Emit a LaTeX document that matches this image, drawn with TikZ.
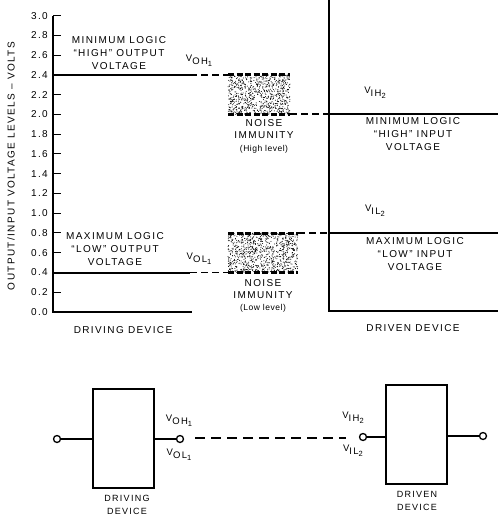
\documentclass[tikz,border=0pt]{standalone}
\usepackage{fontspec}
\setmainfont[LetterSpace=14]{Liberation Sans}
\newfontfamily\plainf[LetterSpace=6]{Liberation Sans}
\newcommand{\Vlab}[2]{V\raisebox{-2.5pt}{#1}\raisebox{-5pt}{\fontsize{7.5}{8}\selectfont #2}}
\begin{document}
\begin{tikzpicture}[x=1pt,y=-1pt,
  lbl/.style={font=\fontsize{10}{12.8}\selectfont, align=center, inner sep=0pt},
  small/.style={font=\plainf\fontsize{8.5}{10}\selectfont, inner sep=0pt},
  sub/.style={font=\fontsize{9.5}{10}\selectfont, inner sep=0pt},
  thk/.style={line width=2pt},
  ax/.style={line width=1.4pt},
  dsh/.style={line width=1.8pt, dash pattern=on 7pt off 4pt},
  edgeln/.style={line width=3pt, dash pattern=on 6pt off 2.5pt},
  pin/.style={circle, draw, line width=1.3pt, minimum size=7pt, inner sep=0pt},
  dev/.style={draw, line width=2pt, minimum width=61pt, minimum height=99pt, inner sep=0pt},
  thin/.style={line width=1.1pt},
  bdash/.style={line width=1.1pt, dash pattern=on 10pt off 6pt}
]
\useasboundingbox (0,0) rectangle (498,516);

% axis
\coordinate (axT) at (53,15.6);
\coordinate (axB) at (53,312);
\coordinate (axR) at (192,312);
\draw[ax] (axT) -- (axB) -- (axR);
\foreach \i/\t in {0/0.0,1/0.2,2/0.4,3/0.6,4/0.8,5/1.0,6/1.2,7/1.4,8/1.6,9/1.8,10/2.0,11/2.2,12/2.4,13/2.6,14/2.8,15/3.0} {
  \pgfmathsetmacro\yy{312-19.76*\i}
  \draw[line width=1pt] (53,\yy) -- (61,\yy);
  \node[lbl,anchor=east] (tk\i) at (48,\yy) {\t};
}
\node[lbl,rotate=90] (ylab) at (11,166) {OUTPUT/INPUT VOLTAGE LEVELS -- VOLTS};

% driven device frame
\coordinate (dT) at (329,0);
\coordinate (dB) at (329,311);
\coordinate (dR) at (498,311);
\draw[ax] (dT) -- (dB) -- (dR);

% high level
\coordinate (ohL) at (53,74.9);
\coordinate (ohM) at (190,74.9);
\coordinate (nhTL) at (228,74.9);
\coordinate (nhTR) at (290,74.9);
\coordinate (nhBL) at (228,114.4);
\coordinate (nhBR) at (290,114.4);
\coordinate (ihM) at (329,114.4);
\coordinate (ihR) at (498,114.4);
\draw[thk] (ohL) -- (ohM);
\draw[dsh] (ohM) -- (nhTL);
\pgfmathsetseed{12}
\foreach \k in {1,...,800} {\fill ({228+62*rnd},{75+39.5*rnd}) circle (0.5pt);}
\draw[edgeln] (nhTL) -- (nhTR);
\draw[edgeln] (nhBL) -- (nhBR);
\draw[dsh] (nhBR) -- (ihM);
\draw[thk] (ihM) -- (ihR);

% low level
\coordinate (olL) at (53,272.5);
\coordinate (olM) at (190,272.5);
\coordinate (nlBL) at (228,272.5);
\coordinate (nlBR) at (298,272.5);
\coordinate (nlTL) at (228,233);
\coordinate (nlTR) at (298,233);
\coordinate (ilM) at (329,233);
\coordinate (ilR) at (498,233);
\draw[thk] (olL) -- (olM);
\draw[dsh] (olM) -- (nlBL);
\foreach \k in {1,...,880} {\fill ({228+70*rnd},{233+39.5*rnd}) circle (0.5pt);}
\draw[edgeln] (nlTL) -- (nlTR);
\draw[edgeln] (nlBL) -- (nlBR);
\draw[dsh] (nlTR) -- (ilM);
\draw[thk] (ilM) -- (ilR);

% texts
\node[lbl] (t1) at (119,53) {MINIMUM LOGIC\\``HIGH'' OUTPUT\\VOLTAGE};
\node[sub] (voh) at (199,61) {\Vlab{OH}{1}};
\node[lbl] (t2) at (115,249) {MAXIMUM LOGIC\\``LOW'' OUTPUT\\VOLTAGE};
\node[sub] (vol) at (199,259) {\Vlab{OL}{1}};
\node[lbl] (nh) at (264,129) {NOISE\\IMMUNITY};
\node[small] (nh2) at (264,149) {(High level)};
\node[lbl] (nl) at (263,289) {NOISE\\IMMUNITY};
\node[small] (nl2) at (263,308) {(Low level)};
\node[sub] (vih) at (375,93) {\Vlab{IH}{2}};
\node[lbl] (t3) at (413,134) {MINIMUM LOGIC\\``HIGH'' INPUT\\VOLTAGE};
\node[sub] (vil) at (375,211) {\Vlab{IL}{2}};
\node[lbl] (t4) at (415,254) {MAXIMUM LOGIC\\``LOW'' INPUT\\VOLTAGE};
\node[lbl] (dg) at (123,330) {DRIVING DEVICE};
\node[lbl] (dn) at (413,328) {DRIVEN DEVICE};

% bottom block diagram
\node[dev] (drv) at (123.5,438.5) {};
\node[dev] (drn) at (416,434.5) {};
\node[pin] (in1) at (57,439) {};
\node[pin] (out1) at (180,439) {};
\node[pin] (in2) at (363,437) {};
\node[pin] (out2) at (483,436) {};
\draw[thin] (in1) -- (in1 -| drv.west);
\draw[thin] (out1 -| drv.east) -- (out1);
\draw[thin] (in2) -- (in2 -| drn.west);
\draw[thin] (out2 -| drn.east) -- (out2);
\coordinate (bd1) at (195,438);
\coordinate (bd2) at (346,438);
\draw[bdash] (bd1) -- (bd2);
\node[sub] (bvoh) at (179,421) {\Vlab{OH}{1}};
\node[sub] (bvol) at (179,455) {\Vlab{OL}{1}};
\node[sub] (bvih) at (353,418) {\Vlab{IH}{2}};
\node[sub] (bvil) at (353,451) {\Vlab{IL}{2}};
\node[lbl,font=\fontsize{9}{13.5}\selectfont] (bdg) at (127,505) {DRIVING\\DEVICE};
\node[lbl,font=\fontsize{9}{13.5}\selectfont] (bdn) at (417,501) {DRIVEN\\DEVICE};
\end{tikzpicture}
\end{document}
